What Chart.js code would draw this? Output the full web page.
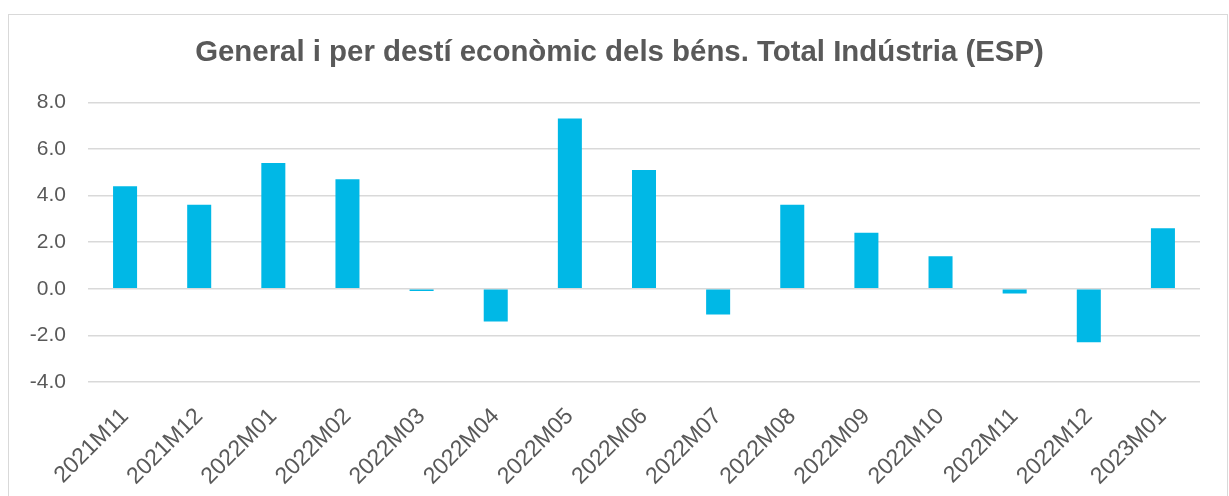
<!DOCTYPE html>
<html>
<head>
<meta charset="utf-8">
<script src="https://cdn.jsdelivr.net/npm/chart.js@4/dist/chart.umd.min.js"></script>
<style>
  html, body { margin: 0; padding: 0; background: #fff; overflow: hidden; }
  #frame {
    position: absolute; left: 8px; top: 14px;
    width: 1218px; height: 498px;
    border: 1px solid #d9d9d9; background: #fff;
  }
  #frame canvas { display: block; }
</style>
</head>
<body>
<div id="frame"><canvas id="chart" width="1218" height="498"></canvas></div>
<script>
// Data
const months = [
  "2021M11", "2021M12", "2022M01", "2022M02", "2022M03", "2022M04", "2022M05", "2022M06",
  "2022M07", "2022M08", "2022M09", "2022M10", "2022M11", "2022M12", "2023M01"
];
const values = [4.4, 3.6, 5.4, 4.7, -0.1, -1.4, 7.3, 5.1, -1.1, 3.6, 2.4, 1.4, -0.2, -2.3, 2.6];
const yTicks = [-4, -2, 0, 2, 4, 6, 8];

const titleText = "General i per destí econòmic dels béns. Total Indústria (ESP)";
const textGrey = "#595959";
const barBlue = "#00b8e6";
const gridGrey = "#d9d9d9";
const fontFamily = "'Liberation Sans', Arial, sans-serif";

Chart.defaults.font.family = fontFamily;
Chart.defaults.color = textGrey;

const ctx = document.getElementById("chart").getContext("2d");
const chart = new Chart(ctx, {
  type: "bar",
  data: {
    labels: months,
    datasets: [{
      data: values,
      backgroundColor: barBlue,
      borderWidth: 0,
      barPercentage: 0.324,
      categoryPercentage: 1.0,
    }],
  },
  options: {
    responsive: false,
    animation: false,
    layout: { padding: { left: 3, right: 0, top: 0, bottom: 0 } },
    plugins: {
      legend: { display: false },
      tooltip: { enabled: false },
      title: {
        display: true,
        text: titleText,
        color: textGrey,
        font: { size: 29.4, weight: "bold" },
        padding: { top: 20, bottom: 32 },
      },
    },
    scales: {
      x: {
        grid: { display: false, drawTicks: false },
        border: { display: false },
        ticks: {
          color: textGrey,
          font: { size: 23 },
          minRotation: 45,
          maxRotation: 45,
          autoSkip: false,
          padding: 21,
          labelOffset: 0,
        },
        afterFit: (scale) => { scale.height = 131; },
      },
      y: {
        min: -4,
        max: 8,
        grid: { color: gridGrey, lineWidth: 1.5, drawTicks: false },
        border: { display: false },
        afterBuildTicks: (scale) => { scale.ticks = yTicks.map((v) => ({ value: v })); },
        ticks: {
          color: textGrey,
          font: { size: 21 },
          padding: 22,
          callback: (v) => Number(v).toFixed(1),
        },
        afterFit: (scale) => { scale.width = 76; },
      },
      // empty right axis only reserves the gap between plot and frame
      yRight: {
        position: "right",
        grid: { display: false, drawTicks: false },
        border: { display: false },
        ticks: { display: false },
        afterFit: (scale) => { scale.width = 27; },
      },
    },
  },
});
</script>
</body>
</html>
